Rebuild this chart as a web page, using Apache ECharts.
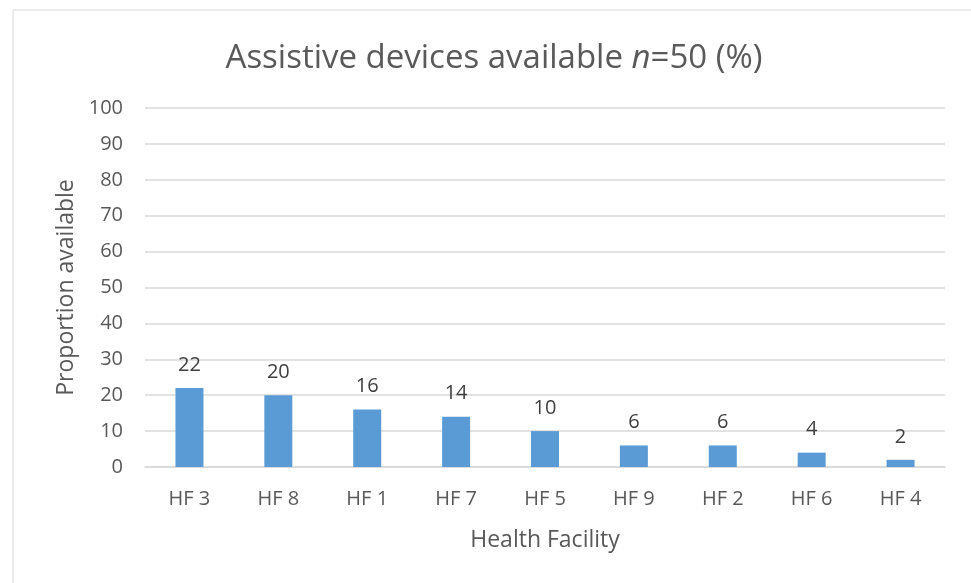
<!DOCTYPE html>
<html><head><meta charset="utf-8">
<script src="https://cdn.jsdelivr.net/npm/echarts@6/dist/echarts.min.js"></script>
<style>html,body{margin:0;padding:0;background:#fff}#c{width:971px;height:583px}</style>
</head><body><div id="c"></div>
<script>
const categories = ['HF 3','HF 8','HF 1','HF 7','HF 5','HF 9','HF 2','HF 6','HF 4'];
const values = [22,20,16,14,10,6,6,4,2];
const yTicks = {min:0,max:100,interval:10};

const FONT = '"Open Sans", "Liberation Sans", sans-serif';
const chart = echarts.init(document.getElementById('c'), null, {renderer:'canvas'});
chart.setOption({
  animation:false,
  backgroundColor:'#fff',
  graphic:[{type:'rect',shape:{x:13,y:10,width:1000,height:1000},style:{fill:'none',stroke:'#d9d9d9',lineWidth:1}}],
  title:{
    text:'Assistive devices available {i|n}=50 (%)',
    left:489, top:37, textAlign:'center',
    textStyle:{fontFamily:FONT,fontSize:33,fontWeight:'normal',color:'#595959',
      rich:{i:{fontFamily:FONT,fontSize:33,fontStyle:'italic',color:'#595959'}}}
  },
  grid:{left:145,right:26,top:108,bottom:116,containLabel:false},
  xAxis:{
    type:'category',data:categories,
    name:'Health Facility',nameLocation:'middle',nameGap:62,
    nameTextStyle:{fontFamily:FONT,fontSize:23,color:'#595959'},
    axisLine:{show:true,lineStyle:{color:'#d9d9d9',width:1.5}},
    axisTick:{show:false},
    axisLabel:{fontFamily:FONT,fontSize:20,color:'#595959',margin:22}
  },
  yAxis:{
    type:'value',min:yTicks.min,max:yTicks.max,interval:yTicks.interval,
    name:'Proportion available',nameLocation:'middle',nameGap:67,nameRotate:90,
    nameTextStyle:{fontFamily:FONT,fontSize:23,color:'#595959'},
    axisLine:{show:false},axisTick:{show:false},
    axisLabel:{fontFamily:FONT,fontSize:20,color:'#595959',margin:22},
    splitLine:{lineStyle:{color:'#d9d9d9',width:1.5}}
  },
  series:[{
    type:'bar',data:values,barWidth:28,
    itemStyle:{color:'#5b9bd5'},
    label:{show:true,position:'top',distance:13,fontFamily:FONT,fontSize:20,color:'#404040'}
  }]
});
</script></body></html>
